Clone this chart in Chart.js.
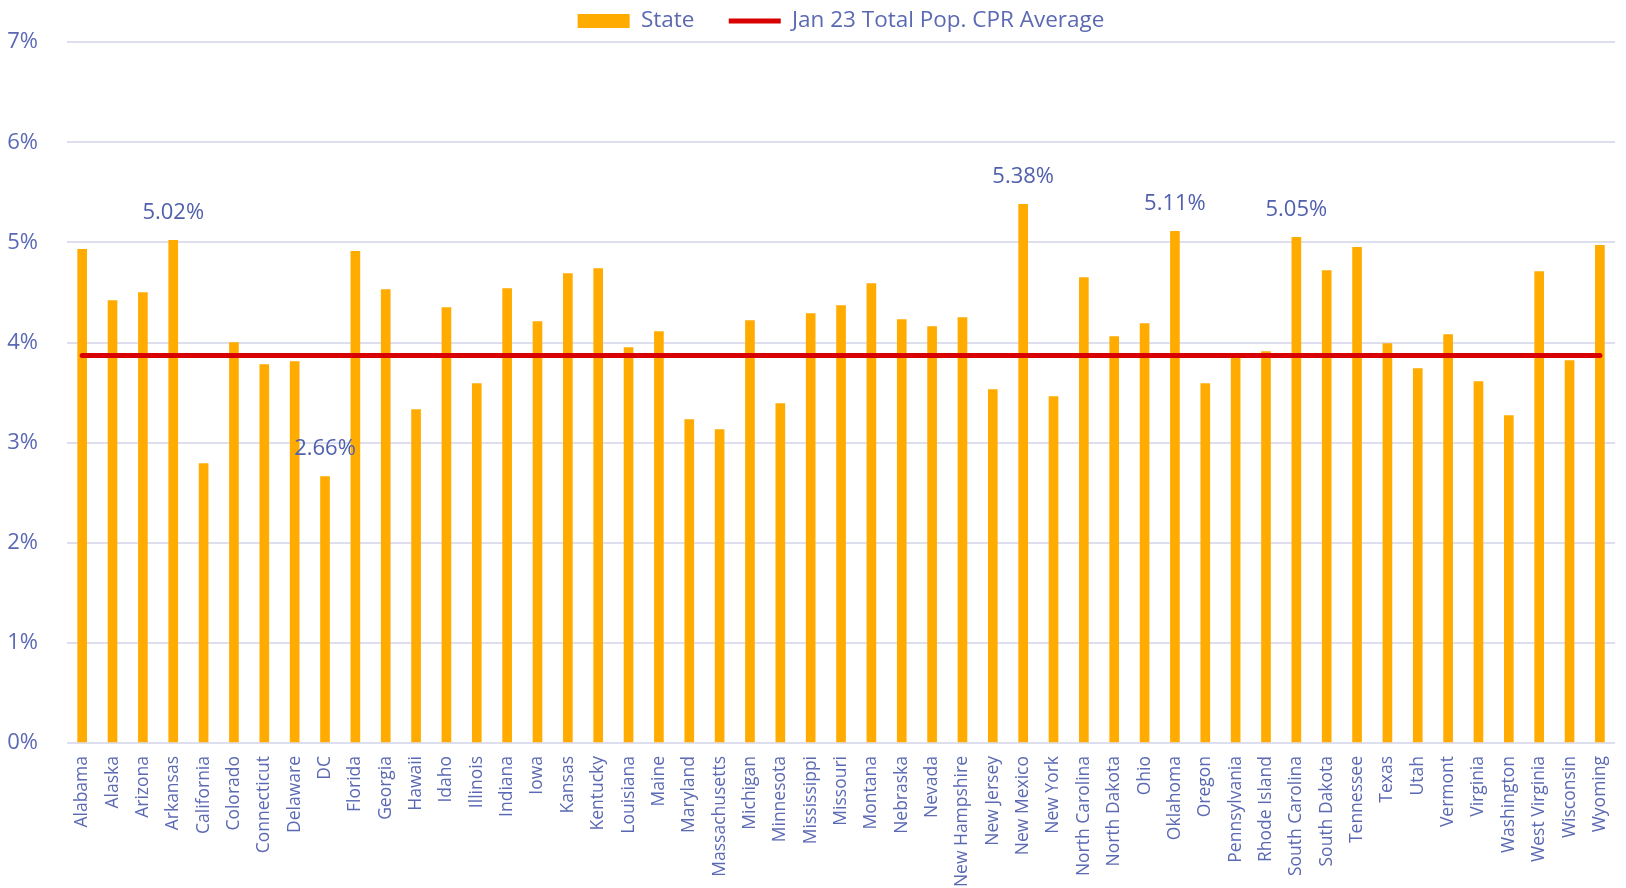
<!DOCTYPE html>
<html>
<head>
<meta charset="utf-8">
<title>State CPR vs Jan 23 average</title>
<script src="https://cdn.jsdelivr.net/npm/chart.js@4.4.1/dist/chart.umd.min.js"></script>
<style>
  html, body { margin: 0; padding: 0; background: #ffffff; }
  #wrap { width: 1626px; height: 888px; }
</style>
</head>
<body>
<div id="wrap"><canvas id="cprChart" width="1626" height="888"></canvas></div>
<script>
// Dados do gráfico
const states = ['Alabama', 'Alaska', 'Arizona', 'Arkansas', 'California', 'Colorado', 'Connecticut', 'Delaware', 'DC',
  'Florida', 'Georgia', 'Hawaii', 'Idaho', 'Illinois', 'Indiana', 'Iowa', 'Kansas', 'Kentucky', 'Louisiana', 'Maine',
  'Maryland', 'Massachusetts', 'Michigan', 'Minnesota', 'Mississippi', 'Missouri', 'Montana', 'Nebraska', 'Nevada',
  'New Hampshire', 'New Jersey', 'New Mexico', 'New York', 'North Carolina', 'North Dakota', 'Ohio', 'Oklahoma',
  'Oregon', 'Pennsylvania', 'Rhode Island', 'South Carolina', 'South Dakota', 'Tennessee', 'Texas', 'Utah', 'Vermont',
  'Virginia', 'Washington', 'West Virginia', 'Wisconsin', 'Wyoming'];

const stateValues = [4.93, 4.42, 4.50, 5.02, 2.79, 4.00, 3.78, 3.81, 2.66,
  4.91, 4.53, 3.33, 4.35, 3.59, 4.54, 4.21, 4.69, 4.74, 3.95, 4.11,
  3.23, 3.13, 4.22, 3.39, 4.29, 4.37, 4.59, 4.23, 4.16,
  4.25, 3.53, 5.38, 3.46, 4.65, 4.06, 4.19, 5.11,
  3.59, 3.85, 3.91, 5.05, 4.72, 4.95, 3.99, 3.74, 4.08,
  3.61, 3.27, 4.71, 3.82, 4.97];

const averageValue = 3.87;
const averageLine = states.map(() => averageValue);

// Estados com rótulo de valor
const labelledStates = ['Arkansas', 'DC', 'New Mexico', 'Oklahoma', 'South Carolina'];

const yTicks = [0, 1, 2, 3, 4, 5, 6, 7];

const textColor = '#5B69B3';
const gridColor = '#DDDFEF';
const fontFamily = '"Open Sans", "Noto Sans", sans-serif';

// Plugin simples para os rótulos de valor acima das barras
const valueLabels = {
    id: 'valueLabels',
    afterDatasetsDraw(chart) {
        const ctx = chart.ctx;
        const meta = chart.getDatasetMeta(0);
        ctx.save();
        ctx.font = '22px ' + fontFamily;
        ctx.fillStyle = '#5060AC';
        ctx.textAlign = 'center';
        ctx.textBaseline = 'middle';
        labelledStates.forEach(name => {
            const i = states.indexOf(name);
            const bar = meta.data[i];
            ctx.fillText(stateValues[i].toFixed(2) + '%', bar.x, bar.y - 28);
        });
        ctx.restore();
    }
};

// Legenda padrão, com um espaço extra depois de "State"
function legendLabels(chart) {
    const items = Chart.defaults.plugins.legend.labels.generateLabels(chart);
    items.forEach(item => {
        if (item.datasetIndex === 0) item.text = item.text + '\u2003 ';
    });
    return items.sort((a, b) => a.datasetIndex - b.datasetIndex);
}

const ctx = document.getElementById('cprChart').getContext('2d');
const chart = new Chart(ctx, {
    type: 'bar',
    data: {
        labels: states,
        datasets: [
            {
                type: 'bar',
                label: 'State',
                data: stateValues,
                backgroundColor: '#FFAB00',
                barThickness: 9,
                pointStyle: 'rect',
                order: 1
            },
            {
                type: 'line',
                label: 'Jan 23 Total Pop. CPR Average',
                data: averageLine,
                borderColor: '#D80000',
                backgroundColor: '#D80000',
                borderWidth: 5,
                borderCapStyle: 'round',
                pointRadius: 0,
                pointHoverRadius: 0,
                pointStyle: 'line',
                order: 0
            }
        ]
    },
    options: {
        responsive: false,
        animation: false,
        layout: { padding: { top: 0, right: 5, bottom: 0, left: 0 } },
        plugins: {
            tooltip: { enabled: false },
            legend: {
                position: 'top',
                fullSize: false,
                labels: {
                    usePointStyle: true,
                    pointStyleWidth: 52,
                    boxHeight: 14,
                    padding: 6,
                    color: textColor,
                    font: { family: fontFamily, size: 22.5 },
                    generateLabels: legendLabels
                }
            }
        },
        scales: {
            x: {
                afterFit: scale => { scale.height = 145; },
                grid: { display: false },
                border: { display: false },
                ticks: {
                    autoSkip: false,
                    maxRotation: 90,
                    minRotation: 90,
                    padding: 5,
                    color: textColor,
                    font: { family: fontFamily, size: 17.5 }
                }
            },
            y: {
                min: 0,
                max: 7,
                afterBuildTicks: scale => { scale.ticks = yTicks.map(v => ({ value: v })); },
                afterFit: scale => { scale.width = 67; },
                grid: { color: gridColor, lineWidth: 2, drawTicks: false },
                border: { display: false },
                ticks: {
                    padding: 29,
                    color: textColor,
                    font: { family: fontFamily, size: 22 },
                    callback: v => v + '%'
                }
            }
        }
    },
    plugins: [valueLabels]
});
</script>
</body>
</html>
